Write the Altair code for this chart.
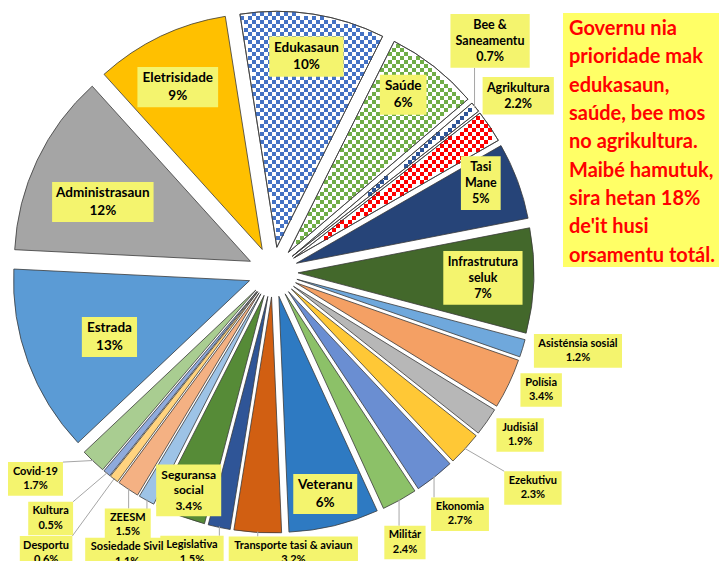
import altair as alt
import pandas as pd

# ---------------- data ----------------
names = ["Edukasaun", "Saúde", "Bee & Saneamentu", "Agrikultura", "Tasi Mane",
         "Infrastrutura seluk", "Asisténsia sosiál", "Polísia", "Judisiál", "Ezekutivu",
         "Ekonomia", "Militár", "Veteranu", "Transporte tasi & aviaun", "Legislativa",
         "Seguransa social", "Sosiedade Sivil", "ZEESM", "Desportu", "Kultura",
         "Covid-19", "Estrada", "Administrasaun", "Eletrisidade"]
values = [9.8, 6.3, 0.7, 2.2, 5.2, 7.1, 1.2, 3.4, 1.9, 2.3, 2.7, 2.4, 6.1, 3.2, 1.5,
          3.4, 1.1, 1.5, 0.6, 0.5, 1.7, 12.7, 12.4, 9.1]
pct_labels = ["10%", "6%", "0.7%", "2.2%", "5%", "7%", "1.2%", "3.4%", "1.9%", "2.3%",
              "2.7%", "2.4%", "6%", "3.2%", "1.5%", "3.4%", "1.1%", "1.5%", "0.6%", "0.5%",
              "1.7%", "13%", "12%", "9%"]
name_lines = ["Edukasaun", "Saúde", "Bee &\nSaneamentu", "Agrikultura", "Tasi\nMane",
              "Infrastrutura\nseluk", "Asisténsia sosiál", "Polísia", "Judisiál", "Ezekutivu",
              "Ekonomia", "Militár", "Veteranu", "Transporte tasi & aviaun", "Legislativa",
              "Seguransa\nsocial", "Sosiedade Sivil", "ZEESM", "Desportu", "Kultura",
              "Covid-19", "Estrada", "Administrasaun", "Eletrisidade"]
note_lines = ["Governu nia", "prioridade mak", "edukasaun,", "saúde, bee mos",
              "no agrikultura.", "Maibé hamutuk,", "sira hetan 18%", "de'it husi",
              "orsamentu totál."]

# ---------------- styles ----------------
fills = ["white", "white", "white", "white", "#264478", "#43682B", "#6FA8DC", "#F4A064",
         "#B7B7B7", "#FFC836", "#6A8ED2", "#8CC168", "#2E7AC2", "#D15F12", "#2F5597",
         "#568B37", "#9DC3E6", "#F4B183", "#FFD37F", "#8FAADC", "#A9CD91", "#5B9BD5",
         "#A5A5A5", "#FFC000"]
patterns = ["#4472C4", "#70AD47", "#2F5597", "#FF0000"] + [""] * 20
lab_r = [218, 220, 317, 302, 226, 210, 315, 293, 296, 338, 306, 301, 228, 282, 292,
         234, 318, 292, 361, 332, 315, 176, 184, 208]
lab_dth = [0, -1.8, -7.6, -1.8, -2.7, -0.3, -2.5, -1.6, -1.6, -2.9, 0.6, 3, 0.3, -7.5,
           4.2, 0.3, -1.7, -3.9, 1.4, 2.5, 5.4, -1.4, -3, -1.7]
leader = [0, 0, 1, 0, 0, 0, 0, 0, 0, 1, 1, 1, 0, 1, 1, 0, 1, 1, 1, 1, 1, 0, 0, 0]
font_sizes = [13.5, 13.5, 12.5, 12.5, 12.5, 12.5, 11, 11, 11, 11, 11, 11, 13.5, 11, 11,
              12, 11, 11, 11, 11, 11, 13.5, 13.5, 13.5]
LH = 1.3

W, H = 711, 553
CX, CY = 265.0, 264.0
R = 236.0
D = 25.0
START = -9.0 * 3.141592653589793 / 180
S = 4  # checker cell


def text_w(s, fs):
    w = 0.0
    for ch in s:
        if ch in "iljíìI'.,:;!|":
            w += 0.27
        elif ch in "ftr":
            w += 0.37
        elif ch == " ":
            w += 0.26
        elif ch in "mM":
            w += 0.84
        elif ch in "wW%":
            w += 0.78
        elif ch == "&":
            w += 0.70
        elif ch.isupper():
            w += 0.63
        elif ch.isdigit():
            w += 0.56
        elif ch in "sz":
            w += 0.43
        else:
            w += 0.54
    return w * fs


labels = [n + "\n" + p for n, p in zip(name_lines, pct_labels)]
box_w = [max(text_w(l, fs) for l in lab.split("\n")) + 9 for lab, fs in zip(labels, font_sizes)]
box_h = [len(lab.split("\n")) * fs * LH + 5 for lab, fs in zip(labels, font_sizes)]

df = pd.DataFrame({
    "idx": list(range(len(names))), "name": names, "value": values, "label": labels,
    "fill": fills, "pat": patterns, "lr": lab_r, "dth": lab_dth, "lead": leader,
    "fs": font_sizes, "bw": box_w, "bh": box_h,
})

base = alt.Chart(df).transform_joinaggregate(
    total="sum(value)"
).transform_window(
    cum="sum(value)", sort=[alt.SortField("idx", order="ascending")], frame=[None, 0]
).transform_calculate(
    t0=f"{START} + 2*PI*(datum.cum - datum.value)/datum.total",
    t1=f"{START} + 2*PI*datum.cum/datum.total",
).transform_calculate(
    mid="(datum.t0 + datum.t1)/2"
).transform_calculate(
    ex=f"{CX} + {D}*sin(datum.mid)",
    ey=f"{CY} - {D}*cos(datum.mid)",
    la="datum.mid + datum.dth*PI/180",
).transform_calculate(
    lx=f"{CX} + datum.lr*sin(datum.la)",
    ly=f"{CY} - datum.lr*cos(datum.la)",
)

XE = alt.X("ex:Q", scale=None, axis=None)
YE = alt.Y("ey:Q", scale=None, axis=None)

arcs = base.mark_arc(radius=R, stroke="#3a3a3a", strokeWidth=0.8).encode(
    x=XE, y=YE,
    theta=alt.Theta("t0:Q", scale=None, stack=None),
    theta2="t1:Q",
    fill=alt.Fill("fill:N", scale=None),
)

N = int(2 * R / S) + 3
pattern = base.transform_filter("datum.pat != ''").transform_calculate(
    cell=f"sequence(0, {N * N})"
).transform_flatten(["cell"]).transform_calculate(
    gx=f"datum.cell % {N}",
    gy=f"floor(datum.cell / {N})",
    ox=f"floor((datum.ex - {R})/{S}) - 1",
    oy=f"floor((datum.ey - {R})/{S}) - 1",
).transform_calculate(
    px=f"(datum.ox + datum.gx)*{S}",
    py=f"(datum.oy + datum.gy)*{S}",
    par="((datum.ox + datum.gx + datum.oy + datum.gy) % 2 + 2) % 2",
).transform_calculate(
    ddx=f"datum.px + {S / 2} - datum.ex",
    ddy=f"datum.py + {S / 2} - datum.ey",
).transform_calculate(
    rr="sqrt(datum.ddx*datum.ddx + datum.ddy*datum.ddy)",
    an0="atan2(datum.ddx, -datum.ddy) - datum.t0",
).transform_calculate(
    an="datum.an0 - 2*PI*floor(datum.an0/(2*PI))",
    px2=f"datum.px + {S}",
    py2=f"datum.py + {S}",
).transform_filter(
    f"datum.par == 0 && datum.rr < {R - 1.5} && datum.an < (datum.t1 - datum.t0)"
    " && datum.rr*sin(datum.an) > 1.2 && datum.rr*sin(datum.t1 - datum.t0 - datum.an) > 1.2"
).mark_rect().encode(
    x=alt.X("px:Q", scale=None, axis=None), x2="px2:Q",
    y=alt.Y("py:Q", scale=None, axis=None), y2="py2:Q",
    fill=alt.Fill("pat:N", scale=None),
)

outlines = base.transform_filter("datum.pat != ''").mark_arc(
    radius=R, stroke="#3a3a3a", strokeWidth=0.8, fillOpacity=0, fill="white"
).encode(
    x=XE, y=YE,
    theta=alt.Theta("t0:Q", scale=None, stack=None),
    theta2="t1:Q",
)

rules = base.transform_filter("datum.lead == 1").transform_calculate(
    ax=f"datum.ex + {R - 1}*sin(datum.mid)",
    ay=f"datum.ey - {R - 1}*cos(datum.mid)",
).transform_calculate(
    qx="clamp(datum.ax, datum.lx - datum.bw/2, datum.lx + datum.bw/2)",
    qy="clamp(datum.ay, datum.ly - datum.bh/2, datum.ly + datum.bh/2)",
).mark_rule(color="#A6A6A6", strokeWidth=1).encode(
    x=alt.X("ax:Q", scale=None, axis=None), y=alt.Y("ay:Q", scale=None, axis=None),
    x2="qx:Q", y2="qy:Q",
)

boxes = base.transform_calculate(
    bx0="datum.lx - datum.bw/2", bx1="datum.lx + datum.bw/2",
    by0="datum.ly - datum.bh/2", by1="datum.ly + datum.bh/2",
).mark_rect(fill="#F4F46E").encode(
    x=alt.X("bx0:Q", scale=None, axis=None), x2="bx1:Q",
    y=alt.Y("by0:Q", scale=None, axis=None), y2="by1:Q",
)

texts = base.transform_calculate(
    lines="split(datum.label, '\\n')",
    nl="length(split(datum.label, '\\n'))",
).transform_flatten(["lines"]).transform_window(
    j="row_number()", groupby=["idx"]
).transform_calculate(
    ty=f"datum.ly + (datum.j - 1 - (datum.nl - 1)/2)*datum.fs*{LH}"
).mark_text(
    font="Lato", fontWeight="bold", color="black",
    align="center", baseline="middle"
).encode(
    x=alt.X("lx:Q", scale=None, axis=None), y=alt.Y("ty:Q", scale=None, axis=None),
    text="lines:N", size=alt.Size("fs:Q", scale=None),
)

note_df = pd.DataFrame({"line": note_lines, "i": list(range(len(note_lines)))})
note_box = alt.Chart(note_df).mark_rect(fill="#FFFF66").encode(
    x=alt.value(555), x2=alt.value(W), y=alt.value(5), y2=alt.value(259)
)
note_text = alt.Chart(note_df).transform_calculate(
    yy="21 + datum.i*28.33"
).mark_text(
    font="Lato", fontWeight="bold", color="#FF0000", fontSize=20,
    align="left", baseline="middle"
).encode(
    x=alt.value(561), y=alt.Y("yy:Q", scale=None, axis=None), text="line:N"
)

chart = alt.layer(
    arcs, pattern, outlines, rules, boxes, texts, note_box, note_text
).properties(
    width=W, height=H, padding=0, autosize=alt.AutoSizeParams(type="none")
).configure_view(stroke=None)

chart.save("out.html", embed_options={"renderer": "svg", "actions": False})
